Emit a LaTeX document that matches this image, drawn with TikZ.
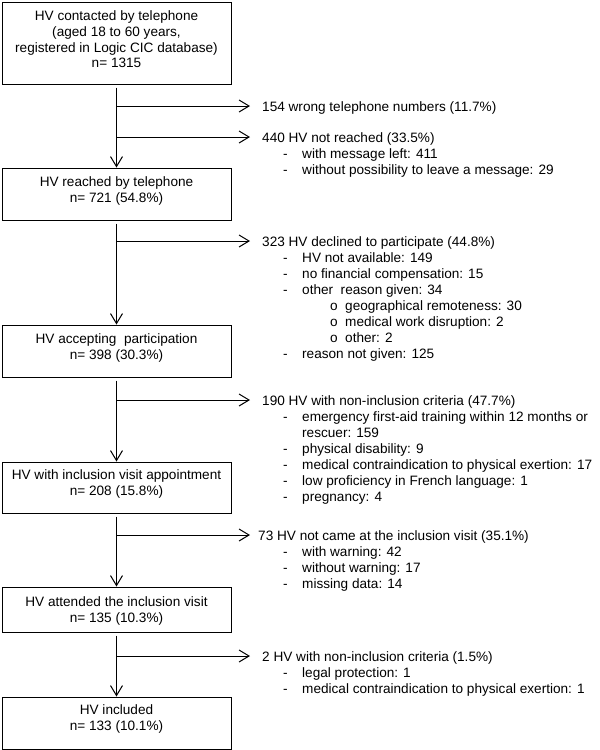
\documentclass[tikz,border=0pt]{standalone}
\usepackage{fontspec}
\setmainfont{Liberation Sans}
\usetikzlibrary{arrows.meta}
\newcommand\txtline[4]{\node[lbl] (#1) at (#2,#3+5) {#4};}
\begin{document}
\begin{tikzpicture}[x=1pt,y=-1pt,
  box/.style={draw, line width=1pt, minimum width=229pt, inner sep=0pt},
  boxtxt/.style={align=center, inner sep=0pt, font=\fontsize{13.6}{16}\selectfont},
  lbl/.style={anchor=base west, inner sep=0pt, font=\fontsize{13.6}{16}\selectfont},
  arr/.style={line width=1pt, -{Straight Barb[length=10pt,width=12pt]}}]
\useasboundingbox (0,0) rectangle (600,750);

% boxes
\node[box, minimum height=82pt] (b1) at (116.5,43) {};
\node[box, minimum height=52pt] (b2) at (116.5,194) {};
\node[box, minimum height=52pt] (b3) at (116.5,351) {};
\node[box, minimum height=51pt] (b4) at (116.5,487.5) {};
\node[box, minimum height=45pt] (b5) at (116.5,609.5) {};
\node[box, minimum height=52pt] (b6) at (116.5,723) {};

\node[boxtxt, font=\fontsize{13.6}{15.7}\selectfont] (t1) at (116.5,39.5) {HV contacted by telephone\\(aged 18 to 60 years,\\registered in Logic CIC database)\\n= 1315};
\node[boxtxt] (t2) at (116.5,190.5) {HV reached by telephone\\n= 721 (54.8\%)};
\node[boxtxt] (t3) at (116.5,347.5) {HV accepting\ \ participation\\n= 398 (30.3\%)};
\node[boxtxt] (t4) at (116.5,484) {HV with inclusion visit appointment\\n= 208 (15.8\%)};
\node[boxtxt] (t5) at (116.5,611) {HV attended the inclusion visit\\n= 135 (10.3\%)};
\node[boxtxt] (t6) at (116.5,719) {HV included\\n= 133 (10.1\%)};

% arrow end points
\coordinate (a1) at (250,106);
\coordinate (a2) at (250,137);
\coordinate (a3) at (250,241);
\coordinate (a4) at (250,400);
\coordinate (a5) at (250,535);
\coordinate (a6) at (250,656);

% vertical arrows
\draw[arr] ([yshift=-3pt]b1.south) -- (b2.north);
\draw[arr] ([yshift=-3pt]b2.south) -- (b3.north);
\draw[arr] ([yshift=-3pt]b3.south) -- (b4.north);
\draw[arr] ([yshift=-3pt]b4.south) -- (b5.north);
\draw[arr] ([yshift=-3pt]b5.south) -- (b6.north);

% branch arrows
\draw[arr] (b1.south |- a1) -- (a1);
\draw[arr] (b1.south |- a2) -- (a2);
\draw[arr] (b2.south |- a3) -- (a3);
\draw[arr] (b3.south |- a4) -- (a4);
\draw[arr] (b4.south |- a5) -- (a5);
\draw[arr] (b5.south |- a6) -- (a6);

% exclusion texts
\txtline{m1}{262}{106}{154 wrong telephone numbers (11.7\%)}

\txtline{m2}{262}{137}{440 HV not reached (33.5\%)}
\txtline{d2a}{283}{153}{-}\txtline{i2a}{302}{153}{with message left: 411}
\txtline{d2b}{283}{169}{-}\txtline{i2b}{302}{169}{without possibility to leave a message: 29}

\txtline{m3}{262}{241}{323 HV declined to participate (44.8\%)}
\txtline{d3a}{283}{257}{-}\txtline{i3a}{302}{257}{HV not available: 149}
\txtline{d3b}{283}{273}{-}\txtline{i3b}{302}{273}{no financial compensation: 15}
\txtline{d3c}{283}{289}{-}\txtline{i3c}{302}{289}{other\ \ reason given: 34}
\txtline{o3a}{330}{305}{o}\txtline{s3a}{345}{305}{geographical remoteness: 30}
\txtline{o3b}{330}{321}{o}\txtline{s3b}{345}{321}{medical work disruption: 2}
\txtline{o3c}{330}{337}{o}\txtline{s3c}{345}{337}{other: 2}
\txtline{d3d}{283}{353}{-}\txtline{i3d}{302}{353}{reason not given: 125}

\txtline{m4}{262}{400}{190 HV with non-inclusion criteria (47.7\%)}
\txtline{d4a}{283}{416}{-}\txtline{i4a}{302}{416}{emergency first-aid training within 12 months or}
\txtline{i4a2}{302}{432}{rescuer: 159}
\txtline{d4b}{283}{448}{-}\txtline{i4b}{302}{448}{physical disability: 9}
\txtline{d4c}{283}{464}{-}\txtline{i4c}{302}{464}{medical contraindication to physical exertion: 17}
\txtline{d4d}{283}{480}{-}\txtline{i4d}{302}{480}{low proficiency in French language: 1}
\txtline{d4e}{283}{496}{-}\txtline{i4e}{302}{496}{pregnancy: 4}

\txtline{m5}{258}{535}{73 HV not came at the inclusion visit (35.1\%)}
\txtline{d5a}{283}{551}{-}\txtline{i5a}{302}{551}{with warning: 42}
\txtline{d5b}{283}{567}{-}\txtline{i5b}{302}{567}{without warning: 17}
\txtline{d5c}{283}{583}{-}\txtline{i5c}{302}{583}{missing data: 14}

\txtline{m6}{262}{656}{2 HV with non-inclusion criteria (1.5\%)}
\txtline{d6a}{283}{672}{-}\txtline{i6a}{302}{672}{legal protection: 1}
\txtline{d6b}{283}{688}{-}\txtline{i6b}{302}{688}{medical contraindication to physical exertion: 1}
\end{tikzpicture}
\end{document}
